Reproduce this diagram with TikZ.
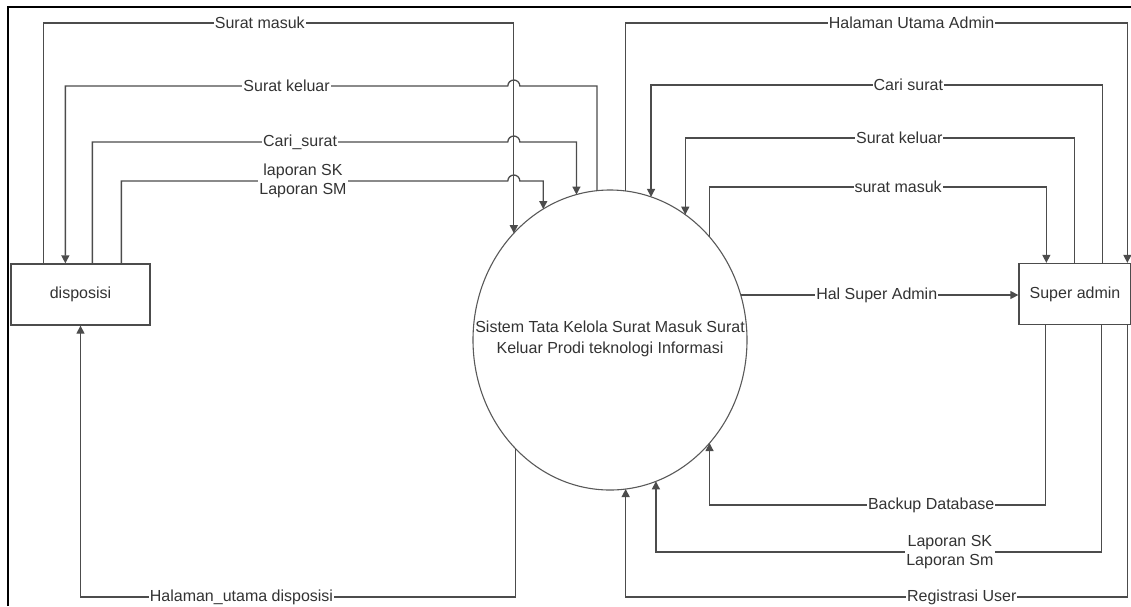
\documentclass[tikz,border=0pt]{standalone}
\usepackage{fontspec}
\setmainfont{Liberation Sans}
\usetikzlibrary{arrows.meta,calc,shapes.geometric}

\begin{document}
\begin{tikzpicture}[x=1pt, y=-1pt,
  %% ── Node styles ──────────────────────────────────────────────────────────
  %% ent  : external entity box   (disposisi, Super admin)
  %% proc : the single process    (ellipse 274 x 300)
  ent/.style={draw=black!70, fill=white, line width=1.3pt,
              minimum width=139pt, minimum height=61pt,
              font=\fontsize{16}{18}\selectfont, text=black!80},
  proc/.style={ellipse, draw=black!65, line width=1.1pt, inner sep=0pt, outer sep=0pt,
               minimum width=274pt, minimum height=300pt},
  lbl/.style={fill=white, inner sep=1pt, align=center,
              font=\fontsize{16}{19}\selectfont, text=black!80},
  %% ── Arrow styles ─────────────────────────────────────────────────────────
  flow/.style={draw=black!70, line width=1.3pt},
  arr/.style={flow, -{Triangle[length=8pt, width=8pt]}}
]
\useasboundingbox (0,0) rectangle (1131,606);

%% ── Frame (left and top edge only) ──────────────────────────────────────────
\draw[line width=2.8pt] (8,606) -- (8,7) -- (1131,7);

%% ── Entities and process ────────────────────────────────────────────────────
\node[ent] (disp) at (80.5,294.5) {disposisi};
\node[ent, minimum width=112pt] (sadm) at (1075,294) {Super admin};
\node[proc] (sys) at (610,340) {};
\node[lbl, fill=none, font=\fontsize{16}{21}\selectfont] (systxt) at (610,339)
  {Sistem Tata Kelola Surat Masuk Surat\\Keluar Prodi teknologi Informasi};

%% ── Attach points on the boxes ──────────────────────────────────────────────
\coordinate (dA) at ([xshift=33]disp.north west);
\coordinate (dB) at ([xshift=55]disp.north west);
\coordinate (dC) at ([xshift=82]disp.north west);
\coordinate (dD) at ([xshift=111]disp.north west);
\coordinate (sA) at ([xshift=28]sadm.north west);
\coordinate (sB) at ([xshift=56]sadm.north west);
\coordinate (sC) at ([xshift=84]sadm.north west);
\coordinate (sD) at ([xshift=109]sadm.north west);
\coordinate (sE) at ([xshift=27]sadm.south west);
\coordinate (sF) at ([xshift=83]sadm.south west);
\coordinate (sG) at ([xshift=109]sadm.south west);
%% line hops where the left flows cross "Surat masuk"
\coordinate (hx) at (sys.132);

%% ── Flows: disposisi <-> process ────────────────────────────────────────────
\draw[arr] (dA) -- (dA |- 0,23) -- node[lbl, pos=0.46] {Surat masuk} (hx |- 0,23) -- (sys.132);
\draw[arr] (sys.95) -- (sys.95 |- 0,86) -- ($(hx |- 0,86)+(6,0)$)
  arc[start angle=0, end angle=-180, radius=6]
  -- node[lbl, pos=0.5] {Surat keluar} (dB |- 0,86) -- (dB);
\draw[arr] (dC) -- (dC |- 0,142) -- node[lbl, pos=0.5] {Cari\_surat} ($(hx |- 0,142)+(-6,0)$)
  arc[start angle=180, end angle=360, radius=6]
  -- (sys.103 |- 0,142) -- (sys.103);
\draw[arr] (dD) -- (dD |- 0,181) -- node[lbl, pos=0.47] {laporan SK\\Laporan SM} ($(hx |- 0,181)+(-6,0)$)
  arc[start angle=180, end angle=360, radius=6]
  -- (sys.117 |- 0,181) -- (sys.117);
\draw[arr] (sys.229) -- (sys.229 |- 0,597) -- node[lbl, pos=0.63] {Halaman\_utama disposisi} (disp.south |- 0,597) -- (disp.south);

%% ── Flows: process <-> Super admin ──────────────────────────────────────────
\draw[arr] (sys.84) -- (sys.84 |- 0,23) -- node[lbl, pos=0.57] {Halaman Utama Admin} (sD |- 0,23) -- (sD);
\draw[arr] (sC) -- (sC |- 0,85) -- node[lbl, pos=0.43] {Cari surat} (sys.74 |- 0,85) -- (sys.74);
\draw[arr] (sB) -- (sB |- 0,138) -- node[lbl, pos=0.45] {Surat keluar} (sys.59 |- 0,138) -- (sys.59);
\draw[arr] (sys.46) -- (sys.46 |- 0,187) -- node[lbl, pos=0.56] {surat masuk} (sA |- 0,187) -- (sA);
\draw[arr] (sys.19) -- node[lbl, pos=0.49] {Hal Super Admin} (sys.19 -| sadm.west);
\draw[arr] (sE) -- (sE |- 0,505) -- node[lbl, pos=0.34] {Backup Database} (sys.314 |- 0,505) -- (sys.314);
\draw[arr] (sF) -- (sF |- 0,552) -- node[lbl, pos=0.34] {Laporan SK\\Laporan Sm} (sys.288 |- 0,552) -- (sys.288);
\draw[arr] (sG) -- (sG |- 0,597) -- node[lbl, pos=0.33] {Registrasi User} (sys.276 |- 0,597) -- (sys.276);

\end{tikzpicture}
\end{document}
